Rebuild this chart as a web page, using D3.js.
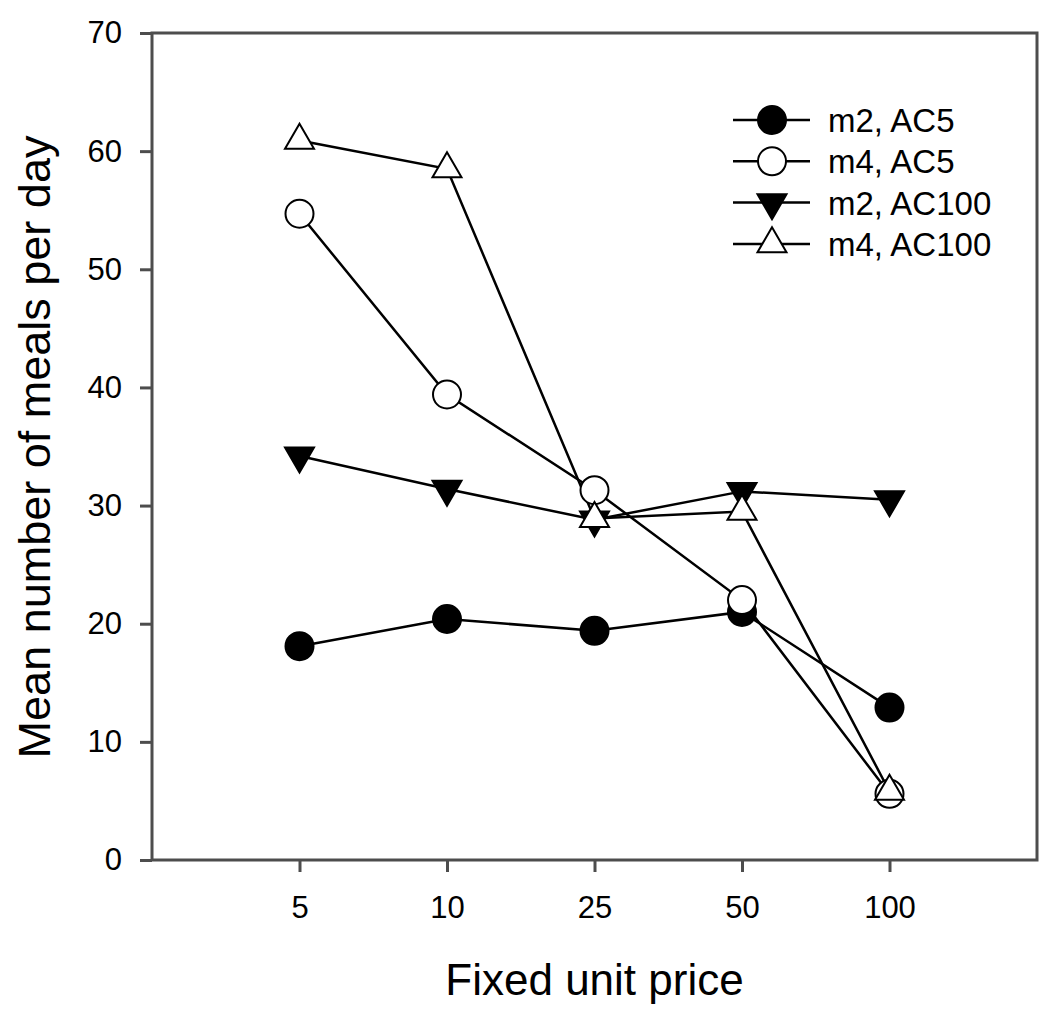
<!DOCTYPE html>
<html>
<head>
<meta charset="utf-8">
<script src="https://cdn.jsdelivr.net/npm/d3@7"></script>
<style>
  body { margin: 0; background: #fff; }
  svg text { font-family: "Liberation Sans", Arial, sans-serif; fill: #000; }
</style>
</head>
<body>
<svg class="chart" width="1050" height="1027"></svg>
<script>
// data
var prices = ['5', '10', '25', '50', '100'];
var yTicks = [0, 10, 20, 30, 40, 50, 60, 70];
var seriesNames = ['m2, AC5', 'm4, AC5', 'm2, AC100', 'm4, AC100'];
var m2AC5 = [18.1, 20.4, 19.4, 21.0, 12.9];
var m4AC5 = [54.7, 39.4, 31.3, 22.0, 5.6];
var m2AC100 = [34.2, 31.4, 28.8, 31.2, 30.5];
var m4AC100 = [60.9, 58.5, 28.9, 29.5, 5.8];

var series = [
    { name: seriesNames[0], values: m2AC5, shape: 'circle', fill: '#000' },
    { name: seriesNames[1], values: m4AC5, shape: 'circle', fill: '#fff' },
    { name: seriesNames[2], values: m2AC100, shape: 'down', fill: '#000' },
    { name: seriesNames[3], values: m4AC100, shape: 'up', fill: '#fff' }
];

var svg = d3.select('svg.chart');
var axisColor = '#4d4d4d';

// plot box (window.top is reserved, so use other names)
var plotLeft = 152, plotRight = 1037, plotTop = 33, plotBottom = 860;

var x = d3.scalePoint().domain(prices).range([plotLeft, plotRight]).padding(1);
var y = d3.scaleLinear().domain([0, 70]).range([plotBottom, plotTop]);

// marker paths, triangles centred on their centroid
let markerPath = function (shape) {
    var w = 14.5, h = 25;
    if (shape == 'up') {
        return 'M0,' + (-2 * h / 3) + 'L' + w + ',' + (h / 3) + 'L' + (-w) + ',' + (h / 3) + 'Z';
    } else if (shape == 'down') {
        return 'M0,' + (2 * h / 3) + 'L' + w + ',' + (-h / 3) + 'L' + (-w) + ',' + (-h / 3) + 'Z';
    }
    return null;
}

let drawMarker = function (g, s) {
    if (s.shape == 'circle') {
        g.append('circle')
            .attr('r', 14)
            .attr('fill', s.fill)
            .attr('stroke', '#000')
            .attr('stroke-width', 2);
    } else {
        g.append('path')
            .attr('d', markerPath(s.shape))
            .attr('fill', s.fill)
            .attr('stroke', '#000')
            .attr('stroke-width', 2)
            .attr('stroke-linejoin', 'miter');
    }
}

// frame
svg.append('rect')
    .attr('x', plotLeft).attr('y', plotTop)
    .attr('width', plotRight - plotLeft).attr('height', plotBottom - plotTop)
    .attr('fill', 'none')
    .attr('stroke', axisColor)
    .attr('stroke-width', 3);

// axes
var yAxis = svg.append('g')
    .attr('transform', 'translate(' + plotLeft + ',0)')
    .call(d3.axisLeft(y).tickValues(yTicks).tickSize(12).tickPadding(18).tickFormat(d3.format('d')));
var xAxis = svg.append('g')
    .attr('transform', 'translate(0,' + plotBottom + ')')
    .call(d3.axisBottom(x).tickSize(12).tickPadding(24));

[yAxis, xAxis].forEach(function (a) {
    a.select('.domain').remove();
    a.selectAll('.tick line').attr('stroke', axisColor).attr('stroke-width', 3);
    a.selectAll('.tick text')
        .style('font-family', '"Liberation Sans", Arial, sans-serif')
        .style('font-size', '31px')
        .attr('fill', '#000');
});

// lines first, then markers on top
var line = d3.line()
    .x(function (d, i) { return x(prices[i]); })
    .y(function (d) { return y(d); });

svg.selectAll('.series-line')
    .data(series)
    .enter()
    .append('path')
    .attr('class', 'series-line')
    .attr('d', function (d) { return line(d.values); })
    .attr('fill', 'none')
    .attr('stroke', '#000')
    .attr('stroke-width', 2.5);

series.forEach(function (s) {
    s.values.forEach(function (v, i) {
        var g = svg.append('g')
            .attr('transform', 'translate(' + x(prices[i]) + ',' + y(v) + ')');
        drawMarker(g, s);
    });
});

// legend
var legend = svg.append('g').attr('class', 'legend');
series.forEach(function (s, i) {
    var ly = 120 + i * 41.3;
    var g = legend.append('g').attr('transform', 'translate(0,' + ly + ')');
    g.append('line')
        .attr('x1', 733).attr('x2', 810)
        .attr('stroke', '#000')
        .attr('stroke-width', 2.5);
    var m = g.append('g').attr('transform', 'translate(772,0)');
    drawMarker(m, s);
    g.append('text')
        .attr('x', 828)
        .attr('y', 12)
        .style('font-size', '33px')
        .text(s.name);
});

// axis titles
svg.append('text')
    .attr('x', (plotLeft + plotRight) / 2)
    .attr('y', 995)
    .attr('text-anchor', 'middle')
    .style('font-size', '44px')
    .text('Fixed unit price');

svg.append('text')
    .attr('transform', 'translate(50,447) rotate(-90)')
    .attr('text-anchor', 'middle')
    .style('font-size', '45px')
    .text('Mean number of meals per day');
</script>
</body>
</html>
